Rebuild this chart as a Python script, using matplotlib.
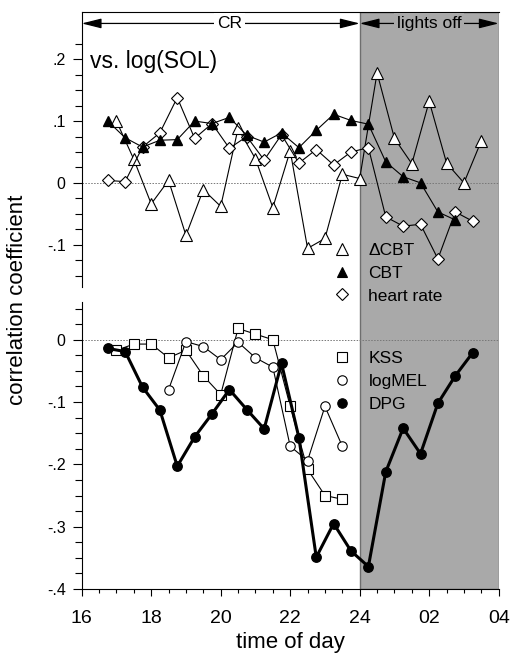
import numpy as np
import matplotlib.pyplot as plt
from matplotlib.lines import Line2D
from matplotlib.ticker import FixedLocator

plt.rcParams['font.family'] = ['Liberation Sans', 'DejaVu Sans']

# clock time in hours (24 = midnight, 26 = 02:00)
t_mid = [16.75, 17.25, 17.75, 18.25, 18.75, 19.25, 19.75, 20.25, 20.75, 21.25, 21.75,
         22.25, 22.75, 23.25, 23.75, 24.25, 24.75, 25.25, 25.75, 26.25, 26.75, 27.25]
t_full = [17.0, 17.5, 18.0, 18.5, 19.0, 19.5, 20.0, 20.5, 21.0, 21.5, 22.0,
          22.5, 23.0, 23.5, 24.0, 24.5, 25.0, 25.5, 26.0, 26.5, 27.0, 27.5]

# top panel
dcbt = [0.100, 0.038, -0.034, 0.004, -0.085, -0.011, -0.038, 0.088, 0.039, -0.040, 0.052,
        -0.106, -0.090, 0.014, 0.007, 0.178, 0.072, 0.031, 0.132, 0.032, 0.000, 0.068]
cbt = [0.100, 0.073, 0.058, 0.069, 0.070, 0.100, 0.096, 0.106, 0.077, 0.066, 0.081,
       0.057, 0.085, 0.111, 0.101, 0.095, 0.034, 0.010, 0.000, -0.047, -0.060]
heart = [0.004, 0.002, 0.058, 0.081, 0.138, 0.072, 0.096, 0.056, 0.075, 0.037, 0.078,
         0.032, 0.054, 0.029, 0.050, 0.057, -0.055, -0.070, -0.067, -0.123, -0.047, -0.062]

# bottom panel
kss_t = [17.0, 17.5, 18.0, 18.5, 19.0, 19.5, 20.0, 20.5, 21.0, 21.5, 22.0, 22.5, 23.0, 23.5]
kss = [-0.017, -0.007, -0.007, -0.029, -0.017, -0.058, -0.088, 0.018, 0.009, 0.000,
       -0.107, -0.208, -0.250, -0.256]
mel_t = [18.5, 19.0, 19.5, 20.0, 20.5, 21.0, 21.5, 22.0, 22.5, 23.0, 23.5]
logmel = [-0.080, -0.003, -0.011, -0.032, -0.004, -0.029, -0.044, -0.171, -0.194, -0.107, -0.171]
dpg = [-0.014, -0.019, -0.076, -0.113, -0.203, -0.156, -0.119, -0.080, -0.112, -0.143, -0.038,
       -0.157, -0.349, -0.295, -0.339, -0.364, -0.212, -0.142, -0.183, -0.102, -0.058, -0.021]

xticks = [16, 18, 20, 22, 24, 26, 28]
xticklabels = ['16', '18', '20', '22', '24', '02', '04']

W, H = 517, 655
fig = plt.figure(figsize=(W / 100, H / 100), dpi=100)

x0, x1 = 81.7 / W, 498.7 / W
def frac(top_px, bot_px):
    return [x0, 1 - bot_px / H, x1 - x0, (bot_px - top_px) / H]

grey = '#a9a9a9'
bg = fig.add_axes(frac(11.7, 589))
bg.set_xlim(16, 28)
bg.set_ylim(0, 1)
bg.axvspan(24, 28, facecolor=grey, edgecolor='#6e6e6e', lw=1)
bg.axis('off')

top = fig.add_axes(frac(11.7, 286.7))
bot = fig.add_axes(frac(301.7, 589))

lw = 0.8
for ax in (top, bot):
    ax.set_facecolor('none')
    ax.set_xlim(16, 28)
    ax.axhline(0, color='#777777', ls=(0, (1.5, 1.5)), lw=0.7, zorder=1)
    ax.spines['right'].set_visible(False)
    ax.tick_params(axis='y', which='major', direction='out', length=6.5, width=0.8, labelsize=11.5, pad=5)
    ax.tick_params(axis='y', which='minor', direction='out', length=5, width=0.8)

top.spines['bottom'].set_visible(False)
top.tick_params(axis='x', which='both', bottom=False, labelbottom=False)
bot.spines['top'].set_visible(False)

top.set_ylim(-0.168, 0.277)
top.yaxis.set_major_locator(FixedLocator([-0.1, 0, 0.1, 0.2]))
top.set_yticklabels(['-.1', '0', '.1', '.2'])
top.yaxis.set_minor_locator(FixedLocator(np.arange(-0.15, 0.23, 0.025)))

bot.set_ylim(-0.4, 0.061)
bot.yaxis.set_major_locator(FixedLocator([-0.4, -0.3, -0.2, -0.1, 0]))
bot.set_yticklabels(['-.4', '-.3', '-.2', '-.1', '0'])
bot.yaxis.set_minor_locator(FixedLocator(np.arange(-0.4, 0.051, 0.025)))

bot.set_xticks(xticks)
bot.set_xticklabels(xticklabels)
bot.xaxis.set_minor_locator(FixedLocator(np.arange(16, 28.01, 0.5)))
bot.tick_params(axis='x', which='major', direction='out', length=5, width=0.8, labelsize=14, pad=10)
bot.tick_params(axis='x', which='minor', direction='out', length=3, width=0.8)

# top panel series
top.plot(t_full, dcbt, color='black', lw=lw, marker='^', ms=8.5, mfc='white', mec='black', mew=0.8, zorder=3)
top.plot(t_mid, heart, color='black', lw=lw, marker='D', ms=6.6, mfc='white', mec='black', mew=0.8, zorder=3)
top.plot(t_mid[:len(cbt)], cbt, color='black', lw=lw, marker='^', ms=7.5, mfc='black', mec='black', zorder=4)

# bottom panel series
bot.plot(kss_t, kss, color='black', lw=lw, marker='s', ms=6.5, mfc='white', mec='black', mew=0.8, zorder=3)
bot.plot(mel_t, logmel, color='black', lw=lw, marker='o', ms=6.8, mfc='white', mec='black', mew=0.8, zorder=3)
bot.plot(t_mid, dpg, color='black', lw=2.2, marker='o', ms=6.8, mfc='black', mec='black', zorder=4)

# header arrows
arrow_y = 0.258
aprops = dict(arrowstyle='<|-|>,head_length=1.0,head_width=0.25', color='black', lw=0.9,
              shrinkA=0, shrinkB=0, mutation_scale=12)
top.annotate('', xy=(16, arrow_y), xytext=(24, arrow_y), arrowprops=aprops)
top.annotate('', xy=(24, arrow_y), xytext=(28, arrow_y), arrowprops=aprops)
top.text(20.25, arrow_y, 'CR', ha='center', va='center', fontsize=12.5,
         bbox=dict(facecolor='white', edgecolor='none', pad=2))
top.text(26.0, arrow_y, 'lights off', ha='center', va='center', fontsize=12.5,
         bbox=dict(facecolor=grey, edgecolor='none', pad=2))

top.text(16.24, 0.197, 'vs. log(SOL)', ha='left', va='center', fontsize=16.5)

# legends
def proxy(marker, ms, fill):
    return Line2D([], [], ls='none', marker=marker, ms=ms, mfc=fill, mec='black', mew=0.8)

leg_kw = dict(frameon=False, fontsize=12.5, handlelength=1.0, handletextpad=1.0,
              labelspacing=0.45, borderpad=0, borderaxespad=0, loc='center left',
              bbox_transform=fig.transFigure)
top.legend(handles=[proxy('^', 8.5, 'white'), proxy('^', 7.5, 'black'), proxy('D', 6.6, 'white')],
           labels=['\u0394CBT', 'CBT', 'heart rate'],
           bbox_to_anchor=(333.7 / W, 1 - 273 / H), **leg_kw)
bot.legend(handles=[proxy('s', 6.5, 'white'), proxy('o', 6.8, 'white'), proxy('o', 6.8, 'black')],
           labels=['KSS', 'logMEL', 'DPG'],
           bbox_to_anchor=(333.7 / W, 1 - 381.7 / H), **leg_kw)

fig.text(18 / W, 1 - 300 / H, 'correlation coefficient', rotation=90, ha='center', va='center', fontsize=16)
bot.set_xlabel('time of day', fontsize=16, labelpad=4)

fig.savefig('out.png', dpi=100)
